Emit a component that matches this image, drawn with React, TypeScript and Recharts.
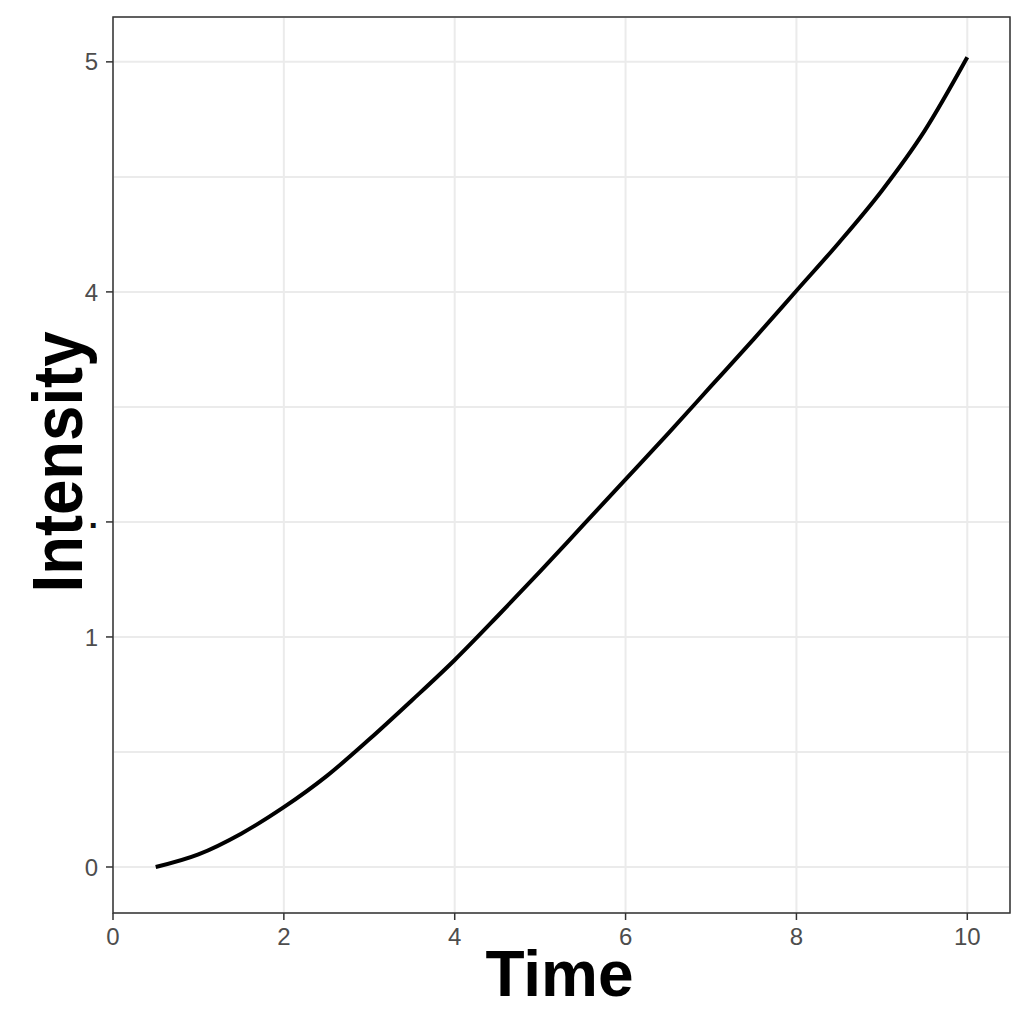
import React from 'react';
import { LineChart, Line, XAxis, YAxis, CartesianGrid, ReferenceArea, Label } from 'recharts';

const timeValues = [0.5, 1, 1.5, 2, 2.5, 3, 3.5, 4, 4.5, 5, 5.5, 6, 6.5, 7, 7.5, 8, 8.5, 9, 9.5, 10];
const intensityValues = [0, 0.11, 0.29, 0.52, 0.79, 1.11, 1.45, 1.8, 2.18, 2.57, 2.97, 3.37, 3.77, 4.18, 4.59, 5.01, 5.43, 5.88, 6.4, 7.04];

const xTicks = [0, 2, 4, 6, 8, 10];
const yGridLevels = [0, 1, 2, 3, 4, 5, 6, 7];
const yTickLabels = ['0', '', '1', '.', '', '4', '', '5'];
const yLabeledLevels = yGridLevels.filter((_, i) => yTickLabels[i] !== '');

const X_DOMAIN: [number, number] = [0, 10.5];
const Y_DOMAIN: [number, number] = [-0.4, 7.39];

const data = timeValues.map((t, i) => ({ time: t, intensity: intensityValues[i] }));

const FONT = '"Liberation Sans", Arial, Helvetica, sans-serif';

const YTick = (props: any) => {
  const { x, y, payload } = props;
  const label = yTickLabels[yGridLevels.indexOf(payload.value)];
  if (label === '.') {
    return (
      <text x={x} y={y + 6} textAnchor="end" fill="#111" fontSize={34} fontWeight="bold" fontFamily={FONT}>
        {label}
      </text>
    );
  }
  return (
    <text x={x} y={y} dy="0.36em" textAnchor="end" fill="#4d4d4d" fontSize={24} fontFamily={FONT}>
      {label}
    </text>
  );
};

const YLabel = (props: any) => {
  const vb = props.viewBox || { x: 0, y: 17, width: 113, height: 896 };
  const cx = vb.x + 82;
  const cy = vb.y + vb.height / 2 - 3;
  return (
    <text
      x={cx}
      y={cy}
      transform={`rotate(-90, ${cx}, ${cy})`}
      textAnchor="middle"
      fontSize={70}
      fontWeight="bold"
      fontFamily={FONT}
      fill="#000"
      textLength={261}
      lengthAdjust="spacingAndGlyphs"
    >
      Intensity
    </text>
  );
};

const XLabel = (props: any) => {
  const vb = props.viewBox || { x: 113, y: 913, width: 897, height: 111 };
  const cx = vb.x + vb.width / 2 - 2;
  const by = vb.y + 83;
  return (
    <text x={cx} y={by} textAnchor="middle" fontSize={64} fontWeight="bold" fontFamily={FONT} fill="#000">
      Time
    </text>
  );
};

export default function App() {
  return (
    <div style={{ position: 'absolute', left: 0, top: 0, width: 1024, height: 1024, background: '#fff' }}>
      <LineChart width={1024} height={1024} data={data} margin={{ top: 17, right: 14, bottom: 0, left: 0 }}>
        <CartesianGrid yAxisId="grid" stroke="#ebebeb" strokeWidth={2} />
        <XAxis
          dataKey="time"
          type="number"
          domain={X_DOMAIN}
          ticks={xTicks}
          allowDataOverflow
          height={111}
          axisLine={false}
          tickLine={{ stroke: '#333', strokeWidth: 1.5 }}
          tickSize={7}
          tickMargin={8}
          tick={{ fill: '#4d4d4d', fontSize: 24, fontFamily: FONT }}
          label={<Label content={XLabel} />}
        />
        <YAxis
          yAxisId="main"
          type="number"
          domain={Y_DOMAIN}
          ticks={yLabeledLevels}
          allowDataOverflow
          width={113}
          axisLine={false}
          tickLine={{ stroke: '#333', strokeWidth: 1.5 }}
          tickSize={7}
          tickMargin={8}
          tick={<YTick />}
          label={<Label content={YLabel} />}
        />
        <YAxis
          yAxisId="grid"
          hide
          width={0}
          type="number"
          domain={Y_DOMAIN}
          ticks={yGridLevels}
          allowDataOverflow
        />
        <ReferenceArea
          yAxisId="main"
          x1={X_DOMAIN[0]}
          x2={X_DOMAIN[1]}
          y1={Y_DOMAIN[0]}
          y2={Y_DOMAIN[1]}
          fill="none"
          stroke="#333"
          strokeWidth={1.5}
          ifOverflow="visible"
        />
        <Line
          yAxisId="main"
          type="monotone"
          dataKey="intensity"
          stroke="#000"
          strokeWidth={4}
          dot={false}
          isAnimationActive={false}
        />
      </LineChart>
    </div>
  );
}
